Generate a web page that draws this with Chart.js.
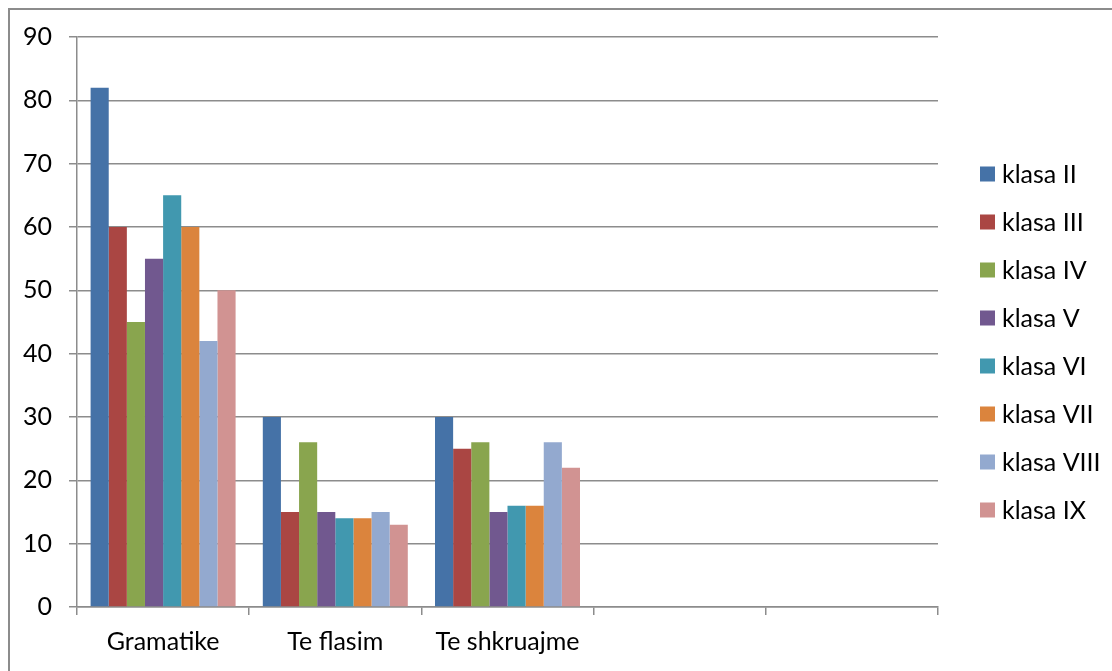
<!DOCTYPE html>
<html>
<head>
<meta charset="utf-8">
<script src="https://cdn.jsdelivr.net/npm/chart.js@4/dist/chart.umd.min.js"></script>
<style>
  html, body { margin: 0; padding: 0; background: #fff; }
  #wrap { width: 1112px; height: 671px; position: relative; }
</style>
</head>
<body>
<div id="wrap"><canvas id="c" width="1112" height="671"></canvas></div>
<script>
// Categories (the last two are empty slots on the axis)
const categories = ['Gramatike', 'Te flasim', 'Te shkruajme', '', ''];

// One array per class
const klasaII   = [82, 30, 30, null, null];
const klasaIII  = [60, 15, 25, null, null];
const klasaIV   = [45, 26, 26, null, null];
const klasaV    = [55, 15, 15, null, null];
const klasaVI   = [65, 14, 16, null, null];
const klasaVII  = [60, 14, 16, null, null];
const klasaVIII = [42, 15, 26, null, null];
const klasaIX   = [50, 13, 22, null, null];

const seriesNames = ['klasa II', 'klasa III', 'klasa IV', 'klasa V', 'klasa VI', 'klasa VII', 'klasa VIII', 'klasa IX'];
const seriesData = [klasaII, klasaIII, klasaIV, klasaV, klasaVI, klasaVII, klasaVIII, klasaIX];
const seriesColors = ['#4572A7', '#AA4643', '#89A54E', '#71588F', '#4198AF', '#DB843D', '#93A9CF', '#D19392'];

// y axis ticks
const yTicks = [0, 10, 20, 30, 40, 50, 60, 70, 80, 90];

const FONT = 'Lato, "Open Sans", sans-serif';
const FONT_SIZE = 25;
const TEXT = '#000';
const AXIS_GRAY = '#8c8c8c';

// Outer frame and the vertical legend on the right
const framePlugin = {
  id: 'frame',
  beforeDraw(chart) {
    const ctx = chart.ctx;
    ctx.save();
    ctx.fillStyle = '#fff';
    ctx.fillRect(0, 0, chart.width, chart.height);
    ctx.strokeStyle = AXIS_GRAY;
    ctx.lineWidth = 2;
    ctx.strokeRect(9, 9, chart.width + 20, chart.height + 20);
    ctx.restore();
  },
  afterDraw(chart) {
    const ctx = chart.ctx;
    ctx.save();
    ctx.font = FONT_SIZE + 'px ' + FONT;
    ctx.textBaseline = 'middle';
    ctx.textAlign = 'left';
    chart.data.datasets.forEach((ds, i) => {
      const cy = 174 + i * 48;
      ctx.fillStyle = ds.backgroundColor;
      ctx.fillRect(980, cy - 7.5, 15, 15);
      ctx.fillStyle = TEXT;
      ctx.fillText(ds.label, 1002, cy + 1);
    });
    ctx.restore();
  }
};

new Chart(document.getElementById('c'), {
  type: 'bar',
  data: {
    labels: categories,
    datasets: seriesNames.map((name, i) => ({
      label: name,
      data: seriesData[i],
      backgroundColor: seriesColors[i],
      borderWidth: 0,
      categoryPercentage: 0.842,
      barPercentage: 1.0
    }))
  },
  options: {
    responsive: false,
    animation: false,
    devicePixelRatio: 1,
    layout: { padding: { top: 37, right: 174, left: 0, bottom: 0 } },
    plugins: {
      legend: { display: false },
      tooltip: { enabled: false }
    },
    scales: {
      x: {
        grid: {
          offset: true,
          drawOnChartArea: false,
          drawTicks: true,
          tickLength: 8,
          color: AXIS_GRAY,
          lineWidth: 1.5
        },
        border: { color: AXIS_GRAY, width: 1.5 },
        ticks: {
          color: TEXT,
          font: { family: FONT, size: FONT_SIZE },
          padding: 12,
          maxRotation: 0,
          autoSkip: false
        },
        afterFit(scale) { scale.height = 64; }
      },
      y: {
        min: 0,
        max: 90,
        afterBuildTicks(scale) { scale.ticks = yTicks.map(v => ({ value: v })); },
        grid: {
          color: AXIS_GRAY,
          lineWidth: 1.5,
          tickLength: 8
        },
        border: { color: AXIS_GRAY, width: 1.5 },
        ticks: {
          color: TEXT,
          font: { family: FONT, size: FONT_SIZE },
          padding: 17
        },
        afterFit(scale) { scale.width = 77; }
      }
    }
  },
  plugins: [framePlugin]
});
</script>
</body>
</html>
